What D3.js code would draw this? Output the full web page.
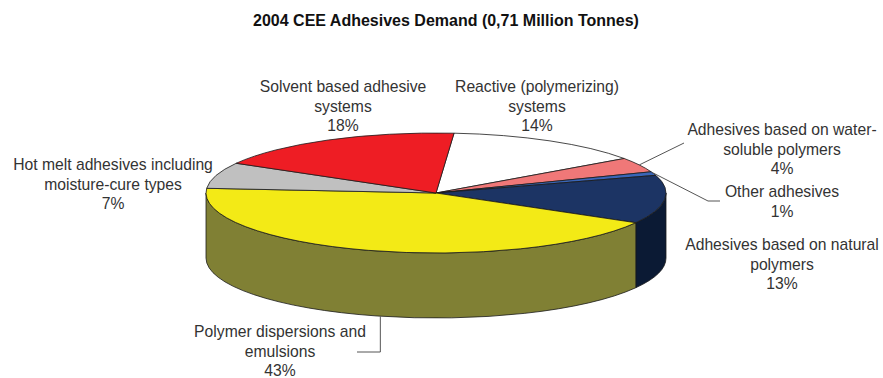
<!DOCTYPE html>
<html>
<head>
<meta charset="utf-8">
<script src="https://cdn.jsdelivr.net/npm/d3@7"></script>
<style>
  body { margin: 0; background: #fff; }
  svg { font-family: Arial, "Liberation Sans", sans-serif; }
</style>
</head>
<body>
<div class="main"></div>
<script>
// Données (ordre horaire, en partant du haut)
const categories = [
  "Reactive (polymerizing)\nsystems",
  "Adhesives based on water-\nsoluble polymers",
  "Other adhesives",
  "Adhesives based on natural\npolymers",
  "Polymer dispersions and\nemulsions",
  "Hot melt adhesives including\nmoisture-cure types",
  "Solvent based adhesive\nsystems"
];
const values = [14, 4, 1, 13, 43, 7, 18];
const title = "2004 CEE Adhesives Demand (0,71 Million Tonnes)";

// Styles
const topColors  = ["#ffffff", "#f07878", "#3a66b8", "#1c3464", "#f3ea16", "#c0c0c0", "#ee1d24"];
const sideColors = ["#bfbfbf", "#b45a5a", "#1d3a70", "#0b1a34", "#808034", "#909090", "#a01418"];

const W = 883, H = 378;
const cx = 436, cy = 193, rx = 230, ry = 60, depth = 65;
const k = ry / rx;

// Position des étiquettes : [x centre, y première ligne]
const labelPos = [
  [537, 92], [782, 135], [782, 197], [782, 250], [280, 337], [113, 170], [343, 92]
];
// Lignes de rappel : fraction de la part, puis points après le départ
const leaders = {
  1: { from: "top", frac: 0.5, pts: [[684, 143]] },
  2: { from: "top", frac: 0.2, pts: [[708, 201], [720, 201]] },
  4: { from: "bottom", frac: 0.48, pts: [[null, 352], [357, 352]] }
};
const lineH = 19.5;

const svg = d3.select('.main').append('svg')
  .attr('width', W).attr('height', H);

svg.append('text')
  .attr('x', 446).attr('y', 26)
  .attr('text-anchor', 'middle')
  .attr('font-size', 16).attr('font-weight', 'bold')
  .attr('fill', '#111')
  .text(title);

const a0 = 4.5 * Math.PI / 180;
const pie = d3.pie().sort(null).startAngle(a0).endAngle(a0 + 2 * Math.PI);
const arcs = pie(values);

const g = svg.append('g')
  .attr('transform', `translate(${cx},${cy}) scale(1,${k})`);

// Parois latérales (moitié avant uniquement)
const dScaled = depth / k;
arcs.forEach((d, i) => {
  const s = Math.max(d.startAngle, Math.PI / 2);
  const e = Math.min(d.endAngle, 3 * Math.PI / 2);
  if (e <= s) return;
  const p = d3.path();
  const s0 = s - Math.PI / 2, e0 = e - Math.PI / 2;
  p.moveTo(rx * Math.cos(s0), rx * Math.sin(s0));
  p.arc(0, 0, rx, s0, e0, false);
  p.lineTo(rx * Math.cos(e0), rx * Math.sin(e0) + dScaled);
  p.arc(0, dScaled, rx, e0, s0, true);
  p.closePath();
  g.append('path')
    .attr('d', p.toString())
    .attr('fill', sideColors[i])
    .attr('stroke', '#1a1a1a')
    .attr('stroke-width', 0.8)
    .attr('vector-effect', 'non-scaling-stroke');
});

// Faces supérieures
const arc = d3.arc().innerRadius(0).outerRadius(rx);
g.selectAll('path.top')
  .data(arcs)
  .join('path')
    .attr('class', 'top')
    .attr('d', arc)
    .attr('fill', (d, i) => topColors[i])
    .attr('stroke', '#1a1a1a')
    .attr('stroke-width', 0.8)
    .attr('stroke-linejoin', 'round')
    .attr('vector-effect', 'non-scaling-stroke');

// Lignes de rappel
Object.keys(leaders).forEach(key => {
  const i = +key, L = leaders[key];
  const t = arcs[i].startAngle + L.frac * (arcs[i].endAngle - arcs[i].startAngle);
  const x0 = cx + rx * Math.sin(t);
  const y0 = cy - ry * Math.cos(t) + (L.from === "bottom" ? depth : 0);
  const pts = [[x0, y0]].concat(L.pts.map(p => [p[0] === null ? x0 : p[0], p[1]]));
  svg.append('path')
    .attr('d', d3.line()(pts))
    .attr('fill', 'none')
    .attr('stroke', '#555')
    .attr('stroke-width', 1);
});

// Étiquettes
arcs.forEach((d, i) => {
  const lines = categories[i].split("\n").concat([values[i] + "%"]);
  const t = svg.append('text')
    .attr('text-anchor', 'middle')
    .attr('font-size', 15.7)
    .attr('fill', '#333');
  lines.forEach((s, j) => {
    t.append('tspan')
      .attr('x', labelPos[i][0])
      .attr('y', labelPos[i][1] + j * lineH)
      .text(s);
  });
});
</script>
</body>
</html>
